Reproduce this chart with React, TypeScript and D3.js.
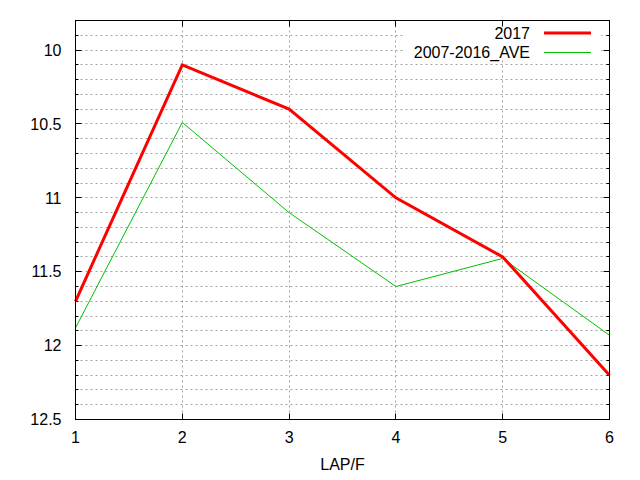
import React from 'react'
import * as d3 from 'd3'

const WIDTH = 640
const HEIGHT = 480
const MARGIN = { top: 20.5, right: 30.5, bottom: 60.5, left: 75.5 }

const laps = [1, 2, 3, 4, 5, 6]
const series2017 = [11.7, 10.1, 10.4, 11.0, 11.4, 12.2]
const seriesAve = [11.88, 10.49, 11.1, 11.6, 11.41, 11.93]
const yMajorTicks = [10, 10.5, 11, 11.5, 12, 12.5]
const yMinorTicks = d3.range(99, 125).map((v) => v / 10)

const FONT = '"Liberation Sans", Arial, sans-serif'

export default function App() {
  const x0 = MARGIN.left
  const x1 = WIDTH - MARGIN.right
  const y0 = MARGIN.top
  const y1 = HEIGHT - MARGIN.bottom

  const xScale = d3.scaleLinear().domain([1, 6]).range([x0, x1])
  const yScale = d3.scaleLinear().domain([9.8, 12.5]).range([y0, y1])

  const line = d3
    .line<number>()
    .x((_, i) => xScale(laps[i]))
    .y((d) => yScale(d))

  const snap = (v: number) => Math.round(v - 0.5) + 0.5

  return (
    <svg
      width={WIDTH}
      height={HEIGHT}
      style={{ position: 'absolute', left: 0, top: 0, background: '#fff' }}
      fontFamily={FONT}
    >
      {/* grid */}
      <g stroke="#a0a0a0" strokeWidth={1} strokeDasharray="2,3">
        {yMinorTicks.map((t) => (
          <line key={'gy' + t} x1={x0} x2={x1} y1={snap(yScale(t))} y2={snap(yScale(t))} />
        ))}
        {laps.slice(1, -1).map((t) => (
          <line key={'gx' + t} x1={snap(xScale(t))} x2={snap(xScale(t))} y1={y0} y2={y1} />
        ))}
      </g>

      {/* opaque legend box */}
      <rect x={405} y={21} width={196} height={37} fill="#fff" />

      {/* ticks */}
      <g stroke="#000" strokeWidth={1}>
        {yMinorTicks.map((t) => (
          <g key={'mt' + t}>
            <line x1={x0} x2={x0 + 3} y1={snap(yScale(t))} y2={snap(yScale(t))} />
            <line x1={x1} x2={x1 - 3} y1={snap(yScale(t))} y2={snap(yScale(t))} />
          </g>
        ))}
        {yMajorTicks.map((t) => (
          <g key={'Mt' + t}>
            <line x1={x0} x2={x0 + 6} y1={snap(yScale(t))} y2={snap(yScale(t))} />
            <line x1={x1} x2={x1 - 6} y1={snap(yScale(t))} y2={snap(yScale(t))} />
          </g>
        ))}
        {laps.map((t) => (
          <g key={'xt' + t}>
            <line x1={snap(xScale(t))} x2={snap(xScale(t))} y1={y1} y2={y1 - 6} />
            <line x1={snap(xScale(t))} x2={snap(xScale(t))} y1={y0} y2={y0 + 6} />
          </g>
        ))}
      </g>

      {/* tick labels */}
      <g fontSize={16} fill="#000">
        {yMajorTicks.map((t) => (
          <text key={'yl' + t} x={x0 - 14} y={yScale(t)} dy="0.36em" textAnchor="end">
            {t}
          </text>
        ))}
        {laps.map((t) => (
          <text key={'xl' + t} x={xScale(t)} y={y1 + 23} textAnchor="middle">
            {t}
          </text>
        ))}
        <text x={(x0 + x1) / 2} y={470} textAnchor="middle">
          LAP/F
        </text>
      </g>

      {/* series */}
      <path d={line(seriesAve) || ''} fill="none" stroke="#00c000" strokeWidth={1} />
      <path d={line(series2017) || ''} fill="none" stroke="#ff0000" strokeWidth={3} strokeLinejoin="miter" />

      {/* legend */}
      <g fontSize={16} fill="#000">
        <text x={530} y={38.5} textAnchor="end">2017</text>
        <line x1={544} x2={591} y1={33} y2={33} stroke="#ff0000" strokeWidth={3} />
        <text x={530} y={57.5} textAnchor="end">2007-2016_AVE</text>
        <line x1={544} x2={591} y1={52.5} y2={52.5} stroke="#00c000" strokeWidth={1} />
      </g>

      {/* border */}
      <rect x={x0} y={y0} width={x1 - x0} height={y1 - y0} fill="none" stroke="#000" strokeWidth={1} />
    </svg>
  )
}
